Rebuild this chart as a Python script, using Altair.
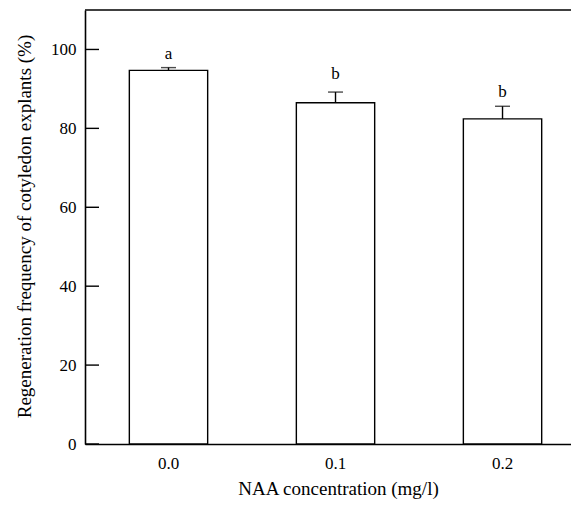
import altair as alt
import pandas as pd

conc = ["0.0", "0.1", "0.2"]
mean = [94.7, 86.5, 82.4]
err = [0.7, 2.7, 3.2]
letters = ["a", "b", "b"]
letter_y = [97.6, 92.5, 88.0]
yticks = [0, 20, 40, 60, 80, 100]

FONT = "Liberation Serif"
W, H = 486, 434

df = pd.DataFrame({
    "conc": conc,
    "val": mean,
    "upper": [m + e for m, e in zip(mean, err)],
    "letter": letters,
    "ly": letter_y,
})
tick_df = pd.DataFrame({"val": yticks})

xscale = alt.Scale(domain=conc, paddingInner=0.531, paddingOuter=0.2205, align=0.602)
xaxis = alt.Axis(title="NAA concentration (mg/l)", labelAngle=0, ticks=False,
                 labelPadding=11, titleX=253, titleY=44, titleBaseline="middle",
                 titleAlign="center", titleFontSize=19)
yscale = alt.Scale(domain=[0, 110], nice=False, zero=True)
yaxis = alt.Axis(title="Regeneration frequency of cotyledon explants (%)",
                 values=yticks, ticks=False, grid=False, labelPadding=9,
                 titleX=-61, titleY=216, titleBaseline="middle", titleAlign="center",
                 titleAngle=270, titleFontSize=19)

X = alt.X("conc:N", scale=xscale, axis=xaxis)

bars = alt.Chart(df).mark_bar(fill="white", stroke="black", strokeWidth=1.4).encode(
    x=X, y=alt.Y("val:Q", scale=yscale, axis=yaxis)
)
errbar = alt.Chart(df).mark_rule(color="black", strokeWidth=1.4).encode(
    x=X, y=alt.Y("val:Q", scale=yscale, axis=yaxis), y2="upper:Q"
)
cap = alt.Chart(df).mark_tick(color="black", thickness=1.4, size=15, orient="horizontal").encode(
    x=X, y=alt.Y("upper:Q", scale=yscale, axis=yaxis)
)
txt = alt.Chart(df).mark_text(font=FONT, fontSize=17, baseline="alphabetic", color="black").encode(
    x=X, y=alt.Y("ly:Q", scale=yscale, axis=yaxis), text="letter:N"
)
inticks = alt.Chart(tick_df).mark_rule(color="black", strokeWidth=1.4).encode(
    y=alt.Y("val:Q", scale=yscale, axis=yaxis), x=alt.value(0), x2=alt.value(14)
)
topline = alt.Chart(pd.DataFrame({"a": [0]})).mark_rule(color="black", strokeWidth=1.6).encode(
    x=alt.value(0), x2=alt.value(W), y=alt.value(0)
)

chart = alt.layer(bars, errbar, cap, txt, inticks, topline).properties(
    width=W, height=H,
    autosize=alt.AutoSizeParams(type="none"),
    padding={"left": 77, "top": 2, "right": 0, "bottom": 56},
).configure_view(stroke=None).configure_axis(
    labelFont=FONT, titleFont=FONT, labelFontSize=17,
    titleFontWeight="normal", labelColor="black", titleColor="black",
    domainColor="black", domainWidth=1.6,
)

chart.save("out.html", embed_options={"renderer": "svg", "actions": False})
